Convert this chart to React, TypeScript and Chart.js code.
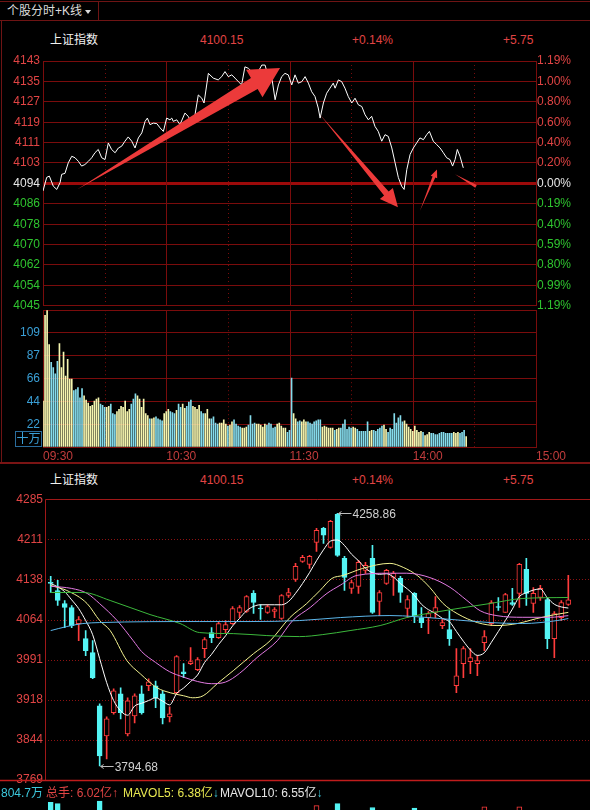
import React, { useEffect, useRef } from 'react';
import { Chart, registerables } from 'chart.js';

Chart.register(...registerables);

const FONT = '"Liberation Sans", "Noto Sans CJK SC", Arial, sans-serif';
Chart.defaults.font.family = FONT;

// ---------------- intraday (分时) ----------------
const PRICE_TICKS = [4045.68, 4053.8, 4061.92, 4070.04, 4078.16, 4086.28, 4094.4, 4102.52, 4110.64, 4118.76, 4126.88, 4135.0, 4143.12];
const PRICE_TICK_LABELS = ['4045', '4054', '4062', '4070', '4078', '4086', '4094', '4103', '4111', '4119', '4127', '4135', '4143'];
const PCT_TICK_LABELS = ['1.19%', '0.99%', '0.80%', '0.59%', '0.40%', '0.19%', '0.00%', '0.20%', '0.40%', '0.60%', '0.80%', '1.00%', '1.19%'];
const TIME_TICKS = [0, 60, 120, 180, 240];
const TIME_LABELS = ['09:30', '10:30', '11:30', '14:00', '15:00'];
const HOUR_LINES = [60, 120, 180];
const HALF_HOUR_LINES = [30, 90, 150, 210];

const MIN_T = [0, 1.8, 3.1, 5.0, 6.7, 8.3, 9.1, 10.7, 12.3, 14.0, 15.6, 17.2, 18.8, 20.4, 22.1, 23.7, 25.3, 26.9, 28.6, 30.2, 31.8, 33.4, 35.1, 36.7, 38.3, 39.9, 41.5, 43.2, 44.8, 46.4, 48.1, 49.7, 50.8, 52.1, 53.7, 55.4, 57.0, 58.6, 60.2, 61.8, 62.7, 63.4, 65.1, 66.7, 69.1, 70.7, 72.4, 74.0, 75.6, 77.3, 78.4, 80.5, 82.9, 85.3, 87.0, 88.6, 90.2, 91.9, 93.5, 95.1, 96.7, 98.3, 100.0, 101.6, 103.2, 104.8, 106.5, 108.1, 109.2, 111.3, 113.0, 114.6, 116.2, 117.8, 119.4, 121.1, 122.7, 124.3, 126.0, 127.6, 129.2, 130.8, 132.4, 134.0, 134.9, 136.5, 138.1, 139.7, 141.3, 142.2, 143.8, 145.4, 147.0, 148.6, 150.3, 151.9, 153.5, 155.2, 156.8, 158.4, 160.0, 161.6, 163.2, 164.9, 166.5, 168.1, 169.8, 171.4, 173.0, 174.6, 175.8, 177.1, 178.7, 180.3, 181.9, 183.5, 185.2, 186.8, 188.1, 190.0, 191.7, 193.3, 194.9, 196.5, 198.1, 199.4, 200.6, 201.7, 203.0, 204.6];
const MIN_P = [4091.4, 4096.8, 4097.3, 4093.3, 4092.0, 4094.7, 4098.0, 4098.4, 4102.6, 4105.2, 4104.6, 4103.2, 4101.3, 4101.9, 4103.2, 4104.6, 4106.6, 4107.9, 4104.6, 4103.9, 4110.5, 4107.9, 4106.6, 4108.5, 4109.2, 4111.2, 4112.9, 4111.2, 4108.5, 4112.5, 4114.5, 4119.1, 4120.4, 4117.8, 4118.4, 4118.2, 4116.5, 4115.1, 4120.4, 4119.7, 4120.4, 4119.1, 4119.7, 4117.8, 4122.4, 4121.1, 4118.4, 4121.7, 4129.6, 4128.3, 4126.4, 4138.2, 4136.3, 4135.6, 4136.9, 4138.9, 4136.9, 4137.6, 4136.3, 4134.9, 4133.6, 4140.8, 4140.2, 4138.9, 4137.6, 4138.9, 4141.5, 4141.5, 4138.2, 4136.9, 4127.7, 4133.6, 4136.9, 4138.2, 4137.6, 4133.6, 4137.6, 4134.3, 4134.9, 4136.9, 4134.3, 4130.9, 4129.0, 4124.4, 4120.4, 4126.4, 4130.3, 4132.3, 4134.3, 4132.3, 4135.6, 4134.9, 4132.3, 4129.0, 4126.4, 4128.3, 4125.7, 4125.0, 4121.7, 4119.7, 4121.1, 4117.1, 4115.1, 4111.2, 4113.8, 4113.1, 4108.5, 4102.6, 4096.7, 4093.3, 4092.0, 4099.9, 4105.9, 4108.5, 4110.5, 4112.5, 4111.8, 4113.8, 4115.1, 4111.2, 4109.8, 4108.5, 4106.6, 4104.6, 4103.9, 4101.3, 4103.9, 4107.9, 4105.2, 4100.6];

// volume per minute, unit 十万
const VOL = [
  44, 126, 131, 98, 81, 76, 70, 82, 99, 76,
  91, 68, 84, 65, 65, 54, 55, 57, 47, 56,
  49, 45, 42, 39, 40, 44, 46, 47, 41, 40,
  38, 38, 39, 41, 32, 31, 34, 36, 39, 38,
  44, 34, 36, 41, 46, 51, 49, 46, 38, 46,
  32, 30, 27, 27, 28, 29, 27, 26, 25, 32,
  34, 36, 34, 33, 32, 35, 41, 38, 41, 37,
  39, 43, 45, 39, 38, 36, 40, 34, 32, 32,
  36, 27, 27, 29, 23, 22, 23, 23, 26, 22,
  20, 21, 24, 26, 22, 20, 19, 18, 18, 19,
  21, 30, 22, 23, 22, 22, 21, 19, 22, 21,
  23, 22, 18, 19, 22, 23, 20, 18, 18, 14,
  16, 66, 32, 27, 24, 25, 24, 26, 24, 24,
  23, 22, 24, 25, 26, 26, 19, 20, 19, 18,
  18, 18, 16, 17, 18, 18, 22, 26, 17, 19,
  18, 19, 18, 17, 15, 15, 15, 15, 24, 15,
  16, 16, 15, 17, 18, 20, 21, 17, 14, 18,
  17, 32, 23, 28, 30, 24, 25, 22, 19, 17,
  15, 20, 16, 14, 15, 14, 11, 12, 14, 13,
  13, 12, 12, 13, 14, 14, 13, 13, 13, 13,
  14, 13, 14, 13, 14, 16, 10
];
const VOL_TICKS = [0, 21.83, 43.67, 65.5, 87.33, 109.17, 131];
const VOL_TICK_LABELS = ['', '22', '44', '66', '87', '109', ''];

// ---------------- daily K-line ----------------
const OPEN = [4132.0, 4117.3, 4093.3, 4086.0, 4056.5, 4028.8, 4003.0, 3905.4, 3850.1, 3892.5, 3927.5, 3853.8, 3886.9, 3927.5, 3942.2, 3942.2, 3927.5, 3885.1, 3929.3, 3968.0, 3982.8, 3971.7, 4010.4, 4039.9, 4030.7, 4045.4, 4056.5, 4076.8, 4078.6, 4111.8, 4085.0, 4076.8, 4078.6, 4065.7, 4108.1, 4137.6, 4170.8, 4165.2, 4205.8, 4231.6, 4196.5, 4257.4, 4176.3, 4121.0, 4124.7, 4154.2, 4176.3, 4097.0, 4130.2, 4141.3, 4139.4, 4084.1, 4111.8, 4067.5, 4067.5, 4076.8, 4052.8, 4045.4, 3942.2, 3982.8, 3986.5, 3982.8, 4021.5, 4056.5, 4087.8, 4076.8, 4095.2, 4111.8, 4156.0, 4093.3, 4104.4, 4100.7, 4028.8, 4067.5, 4091.5];
const HIGH = [4143.1, 4135.7, 4098.9, 4089.7, 4069.4, 4043.6, 4025.2, 3909.0, 3885.1, 3936.7, 3938.5, 3920.1, 3927.5, 3942.2, 3955.1, 3951.0, 3933.0, 3903.5, 3997.5, 3982.8, 4012.3, 3993.8, 4030.7, 4049.1, 4060.0, 4062.0, 4087.8, 4089.7, 4108.1, 4117.3, 4091.5, 4091.5, 4086.0, 4109.9, 4121.0, 4167.1, 4181.8, 4181.8, 4231.6, 4233.4, 4246.3, 4258.86, 4179.9, 4135.7, 4172.6, 4168.9, 4200.2, 4117.3, 4156.0, 4152.3, 4143.1, 4108.1, 4113.6, 4086.0, 4078.6, 4106.2, 4065.7, 4080.4, 4010.4, 4014.2, 4010.4, 3997.5, 4043.6, 4098.9, 4104.4, 4111.8, 4121.0, 4167.1, 4176.3, 4122.8, 4126.5, 4104.4, 4078.6, 4098.9, 4144.9];
const LOW = [4113.6, 4089.7, 4049.1, 4049.1, 4025.2, 3997.5, 3955.1, 3794.68, 3807.7, 3890.0, 3881.4, 3850.1, 3874.0, 3890.0, 3933.0, 3901.7, 3872.2, 3875.9, 3927.0, 3956.9, 3981.0, 3970.0, 3993.8, 4021.5, 4029.0, 4039.9, 4055.0, 4067.5, 4077.0, 4074.9, 4063.9, 4074.9, 4067.5, 4064.0, 4104.4, 4134.0, 4168.9, 4157.8, 4189.2, 4203.9, 4195.0, 4179.9, 4117.3, 4111.8, 4111.8, 4148.6, 4074.9, 4071.2, 4128.4, 4108.1, 4095.2, 4067.5, 4058.3, 4049.1, 4038.0, 4067.5, 4047.2, 4016.1, 3929.3, 3956.9, 3964.3, 3960.6, 4006.7, 4052.8, 4080.4, 4076.8, 4089.7, 4086.0, 4089.7, 4076.8, 4098.9, 4010.4, 3993.8, 4062.0, 4089.7];
const CLOSE = [4130.2, 4098.9, 4086.0, 4052.8, 4063.9, 4006.7, 3956.9, 3813.2, 3881.4, 3933.0, 3892.5, 3914.6, 3923.8, 3892.5, 3949.6, 3920.1, 3883.3, 3890.6, 3995.7, 3964.3, 3986.5, 3990.1, 4027.0, 4030.7, 4056.5, 4054.6, 4084.1, 4086.0, 4106.2, 4095.2, 4083.2, 4087.8, 4082.3, 4108.1, 4113.6, 4161.5, 4178.1, 4179.9, 4227.9, 4218.7, 4244.5, 4181.8, 4141.3, 4132.0, 4168.9, 4163.4, 4076.8, 4113.6, 4154.2, 4148.6, 4113.6, 4100.7, 4071.2, 4058.3, 4074.9, 4086.0, 4058.3, 4028.8, 3960.6, 4010.4, 3993.8, 3988.3, 4032.5, 4095.2, 4086.0, 4109.9, 4091.5, 4165.2, 4111.8, 4111.8, 4121.0, 4028.8, 4074.9, 4095.2, 4100.15];
// daily volume, 亿 (only the tallest bars reach into the visible strip)
const DAY_VOL = [11.2, 11.0, 8.0, 8.4, 7.2, 8.2, 8.8, 11.4, 9.6, 7.6, 7.2, 7.8, 6.8, 7.0, 6.2, 6.4, 6.9, 5.8, 8.9, 6.3, 6.5, 5.4, 7.3, 6.8, 6.9, 6.1, 7.8, 7.1, 8.1, 7.9, 6.3, 5.8, 5.5, 7.5, 6.7, 9.2, 8.4, 8.6, 10.7, 9.4, 9.9, 11.0, 9.7, 7.9, 8.8, 7.7, 10.4, 8.3, 7.9, 7.5, 7.3, 6.7, 10.3, 7.3, 6.5, 6.3, 5.9, 7.1, 8.7, 7.5, 6.3, 5.9, 10.5, 9.0, 7.2, 6.0, 5.6, 10.5, 6.0, 5.5, 6.5, 7.6, 6.8, 5.0, 6.02];

const K_TICKS = [3769, 3842.7, 3916.4, 3990.1, 4063.9, 4137.6, 4211.3, 4285];
const K_TICK_LABELS = ['3769', '3844', '3918', '3991', '4064', '4138', '4211', '4285'];

// moving averages
const MA5 = [4130, 4124, 4115, 4100, 4084, 4062, 4036, 3992, 3948, 3915, 3896, 3888, 3905, 3910, 3915, 3920, 3914, 3907, 3928, 3938, 3950, 3962, 3985, 4000, 4018, 4034, 4052, 4066, 4080, 4088, 4091, 4091, 4091, 4091, 4097, 4112, 4130, 4150, 4172, 4192, 4208, 4210, 4200, 4184, 4172, 4158, 4150, 4147, 4148, 4142, 4130, 4120, 4108, 4092, 4082, 4075, 4066, 4060, 4042, 4024, 4008, 3998, 4003, 4022, 4042, 4062, 4083, 4106, 4113, 4118, 4120, 4104, 4092, 4087, 4085];
const MA10_X = [0, 2.3, 5.2, 7, 8.5, 10.9, 12.8, 15.2, 17.1, 19, 20.3, 21.8, 23.8, 26.1, 29, 31.4, 34.2, 36.6, 38.5, 40.2, 41.8, 44.6, 48.5, 50.4, 52.4, 54.2, 56.1, 58.1, 61, 63.8, 66.7, 69.5, 71.4, 74];
const MA10_Y = [4126.5, 4117.3, 4093.3, 4062, 4043.6, 3988.3, 3964.3, 3938.5, 3929.3, 3923.8, 3920.1, 3923.8, 3945.9, 3969.9, 4001.2, 4025.2, 4067.5, 4093.3, 4117.3, 4139.4, 4144.9, 4157.8, 4167.1, 4159.7, 4144.9, 4122.8, 4093.3, 4074.9, 4058.3, 4052.8, 4056.5, 4065.7, 4071.2, 4077];
const MA20_X = [0, 3, 5.2, 7, 9.5, 11.8, 13, 15, 17, 19, 21, 23, 25, 27, 29.5, 32.4, 34.6, 37.1, 39.5, 41.4, 43.8, 48.5, 50.9, 54.2, 57.1, 59.5, 61.4, 63.8, 67.5, 71.4, 74];
const MA20_Y = [4125, 4121, 4112, 4093, 4062, 4025, 4005, 3985, 3968, 3958, 3950, 3946, 3949, 3965, 3994, 4025, 4062, 4086, 4112, 4127, 4145, 4149, 4149, 4141, 4123, 4099, 4080, 4071, 4068, 4068, 4071];
const MA60_X = [0, 4.6, 8.5, 14.2, 18.5, 21.3, 26.1, 30.9, 35.6, 38.9, 42.8, 47.1, 50.9, 54.7, 62.8, 67.5, 74];
const MA60_Y = [4113.6, 4113.6, 4098.9, 4073, 4056.5, 4039.9, 4038, 4034.4, 4032.5, 4036.2, 4043.6, 4052.8, 4067.5, 4076.8, 4093.3, 4102.6, 4104.4];
const MA120_X = [0, 2.3, 4.6, 7, 21.3, 28.5, 35.6, 41.4, 48.5, 55.7, 62.8, 67.5, 72.4, 74];
const MA120_Y = [4043.6, 4051, 4056.5, 4058.3, 4060.2, 4060.2, 4062, 4067.5, 4071.2, 4065.7, 4058.3, 4056.5, 4062, 4065.7];

// ---------------- styles ----------------
const BG = '#000000';
const GRID = '#7a0c0c';
const GRID_MID = '#9c0a0a';
const TXT_RED = '#e04444';
const TXT_GREEN = '#2fc42f';
const TXT_WHITE = '#e6e6e6';
const TXT_VOL = '#3a9fd6';
const TXT_TIME = '#c23c3c';
const K_RED = '#ff3c3c';
const K_CYAN = '#54f4f4';
const VOL_UP = '#f6f6b0';
const VOL_DN = '#86dcec';
const ARROW = '#ec3a3a';
const K_X_MIN = -0.815;
const K_X_MAX = 77.1;

function priceAt(m: number) {
  if (m <= MIN_T[0]) return MIN_P[0];
  for (let i = 1; i < MIN_T.length; i++) {
    if (m <= MIN_T[i]) {
      const f = (m - MIN_T[i - 1]) / (MIN_T[i] - MIN_T[i - 1]);
      return MIN_P[i - 1] + f * (MIN_P[i] - MIN_P[i - 1]);
    }
  }
  return MIN_P[MIN_P.length - 1];
}

const vLinesPlugin = {
  id: 'vlines',
  beforeDatasetsDraw(chart: any) {
    const { ctx, chartArea, scales } = chart;
    const x = scales.x;
    ctx.save();
    ctx.strokeStyle = GRID;
    ctx.lineWidth = 1;
    for (const t of HOUR_LINES) {
      const px = Math.round(x.getPixelForValue(t)) + 0.5;
      ctx.beginPath();
      ctx.moveTo(px, chartArea.top);
      ctx.lineTo(px, chartArea.bottom);
      ctx.stroke();
    }
    ctx.setLineDash([1, 3]);
    for (const t of HALF_HOUR_LINES) {
      const px = Math.round(x.getPixelForValue(t)) + 0.5;
      ctx.beginPath();
      ctx.moveTo(px, chartArea.top);
      ctx.lineTo(px, chartArea.bottom);
      ctx.stroke();
    }
    ctx.restore();
  },
};

// annotation arrows drawn by the user, anchored in data coordinates
const ARROWS = [
  { from: [16.6, 4092.0], to: [115.4, 4140.3], shaft: 13, headL: 30, headW: 32 },
  { from: [134.9, 4121.7], to: [172.8, 4084.9], shaft: 6, headL: 18, headW: 17 },
  { from: [183.5, 4083.5], to: [191.8, 4099.9], shaft: 3, headL: 8, headW: 7 },
  { from: [200.6, 4098.0], to: [210.8, 4093.2], shaft: 3, headL: 0, headW: 0 },
];

const arrowPlugin = {
  id: 'arrows',
  afterDatasetsDraw(chart: any) {
    const { ctx, scales } = chart;
    const xs = scales.x, ys = scales.y;
    ctx.save();
    ctx.fillStyle = ARROW;
    for (const a of ARROWS) {
      const x0 = xs.getPixelForValue(a.from[0]), y0 = ys.getPixelForValue(a.from[1]);
      const x1 = xs.getPixelForValue(a.to[0]), y1 = ys.getPixelForValue(a.to[1]);
      const dx = x1 - x0, dy = y1 - y0;
      const len = Math.hypot(dx, dy);
      const ux = dx / len, uy = dy / len;
      const nx = -uy, ny = ux;
      const bx = x1 - ux * a.headL, by = y1 - uy * a.headL;
      ctx.beginPath();
      ctx.moveTo(x0, y0);
      ctx.lineTo(bx + (nx * a.shaft) / 2, by + (ny * a.shaft) / 2);
      if (a.headL > 0) {
        ctx.lineTo(bx + (nx * a.headW) / 2, by + (ny * a.headW) / 2);
        ctx.lineTo(x1, y1);
        ctx.lineTo(bx - (nx * a.headW) / 2, by - (ny * a.headW) / 2);
      }
      ctx.lineTo(bx - (nx * a.shaft) / 2, by - (ny * a.shaft) / 2);
      ctx.closePath();
      ctx.fill();
    }
    ctx.restore();
  },
};

const kFramePlugin = {
  id: 'kframe',
  beforeDatasetsDraw(chart: any) {
    const { ctx, chartArea, scales, width } = chart;
    const y = scales.y;
    ctx.save();
    ctx.strokeStyle = '#8c1212';
    ctx.lineWidth = 1;
    ctx.setLineDash([1, 2]);
    for (let i = 1; i < K_TICKS.length - 1; i++) {
      const py = Math.round(y.getPixelForValue(K_TICKS[i])) + 0.5;
      ctx.beginPath();
      ctx.moveTo(chartArea.left, py);
      ctx.lineTo(chartArea.right, py);
      ctx.stroke();
    }
    ctx.setLineDash([]);
    ctx.strokeStyle = '#a01818';
    const top = Math.round(chartArea.top) + 0.5;
    const bot = Math.round(chartArea.bottom) + 0.5;
    const left = Math.round(chartArea.left) + 0.5;
    ctx.beginPath();
    ctx.moveTo(left, top);
    ctx.lineTo(width, top);
    ctx.moveTo(left, top);
    ctx.lineTo(left, bot);
    ctx.stroke();
    ctx.strokeStyle = '#c01c1c';
    ctx.lineWidth = 1.5;
    ctx.beginPath();
    ctx.moveTo(0, bot);
    ctx.lineTo(width, bot);
    ctx.stroke();
    ctx.restore();
  },
};

const extremaPlugin = {
  id: 'extrema',
  afterDatasetsDraw(chart: any) {
    const { ctx, scales } = chart;
    const xs = scales.x, ys = scales.y;
    const hiVal = Math.max(...HIGH);
    const loVal = Math.min(...LOW);
    const marks = [
      { i: HIGH.indexOf(hiVal), v: hiVal },
      { i: LOW.indexOf(loVal), v: loVal },
    ];
    ctx.save();
    ctx.font = '12px ' + FONT;
    ctx.textBaseline = 'middle';
    ctx.textAlign = 'left';
    for (const m of marks) {
      const px = xs.getPixelForValue(m.i);
      const py = Math.round(ys.getPixelForValue(m.v)) + 0.5;
      ctx.strokeStyle = '#bdbdbd';
      ctx.lineWidth = 1;
      ctx.beginPath();
      ctx.moveTo(px + 1, py);
      ctx.lineTo(px + 14, py);
      ctx.moveTo(px + 1, py);
      ctx.lineTo(px + 4, py - 2);
      ctx.moveTo(px + 1, py);
      ctx.lineTo(px + 4, py + 2);
      ctx.stroke();
      ctx.fillStyle = '#cfcfcf';
      ctx.fillText(m.v.toFixed(2), px + 15, py + 1);
    }
    ctx.restore();
  },
};

function ChartCanvas({ left, top, width, height, make }: any) {
  const ref = useRef<HTMLCanvasElement>(null);
  useEffect(() => {
    const chart = new Chart(ref.current as HTMLCanvasElement, make());
    return () => chart.destroy();
  }, []);
  return (
    <canvas
      ref={ref}
      width={width}
      height={height}
      style={{ position: 'absolute', left, top, width, height }}
    />
  );
}

const baseOpts = {
  responsive: false,
  maintainAspectRatio: false,
  animation: false,
  events: [],
  devicePixelRatio: 1,
};

function makePriceChart(): any {
  return {
    type: 'line',
    data: {
      datasets: [
        {
          data: MIN_T.map((t, i) => ({ x: t, y: MIN_P[i] })),
          borderColor: '#ffffff',
          borderWidth: 1,
          pointRadius: 0,
          tension: 0,
        },
      ],
    },
    options: {
      ...baseOpts,
      layout: { padding: { top: 11, bottom: 9, left: 0, right: 0 } },
      plugins: { legend: { display: false }, tooltip: { enabled: false } },
      scales: {
        x: { type: 'linear', min: 0, max: 240, display: false },
        y: {
          position: 'left',
          min: PRICE_TICKS[0],
          max: PRICE_TICKS[PRICE_TICKS.length - 1],
          afterBuildTicks: (s: any) => {
            s.ticks = PRICE_TICKS.map((v) => ({ value: v }));
          },
          afterFit: (s: any) => {
            s.width = 43;
          },
          ticks: {
            autoSkip: false,
            padding: 3,
            font: { size: 12, family: FONT },
            color: (c: any) => (c.index < 6 ? TXT_GREEN : c.index === 6 ? TXT_WHITE : TXT_RED),
            callback: (_v: any, i: number) => PRICE_TICK_LABELS[i],
          },
          grid: {
            drawTicks: false,
            color: (c: any) => (c.index === 6 ? GRID_MID : GRID),
            lineWidth: (c: any) => (c.index === 6 ? 3 : 1),
          },
          border: { display: true, color: GRID, width: 1 },
        },
        y2: {
          position: 'right',
          min: PRICE_TICKS[0],
          max: PRICE_TICKS[PRICE_TICKS.length - 1],
          afterBuildTicks: (s: any) => {
            s.ticks = PRICE_TICKS.map((v) => ({ value: v }));
          },
          afterFit: (s: any) => {
            s.width = 54;
          },
          ticks: {
            autoSkip: false,
            padding: 1,
            font: { size: 12, family: FONT },
            color: (c: any) => (c.index < 6 ? TXT_GREEN : c.index === 6 ? TXT_WHITE : TXT_RED),
            callback: (_v: any, i: number) => PCT_TICK_LABELS[i],
          },
          grid: { drawTicks: false, drawOnChartArea: false },
          border: { display: true, color: GRID, width: 1 },
        },
      },
    },
    plugins: [vLinesPlugin, arrowPlugin],
  };
}

function makeVolumeChart(): any {
  const colors = VOL.map((_v, m) => (m === 0 || priceAt(m) >= priceAt(m - 1) ? VOL_UP : VOL_DN));
  return {
    type: 'bar',
    data: {
      datasets: [
        {
          data: VOL.map((v, m) => ({ x: m, y: v })),
          backgroundColor: colors,
          borderWidth: 0,
          barThickness: 1,
          grouped: false,
        },
      ],
    },
    options: {
      ...baseOpts,
      layout: { padding: { top: 7, bottom: 0, left: 0, right: 0 } },
      plugins: { legend: { display: false }, tooltip: { enabled: false } },
      scales: {
        x: {
          type: 'linear',
          min: 0,
          max: 240,
          offset: false,
          afterBuildTicks: (s: any) => {
            s.ticks = TIME_TICKS.map((v) => ({ value: v }));
          },
          afterFit: (s: any) => {
            s.height = 23;
          },
          ticks: {
            autoSkip: false,
            maxRotation: 0,
            minRotation: 0,
            align: 'start',
            padding: 2,
            color: TXT_TIME,
            font: { size: 12, family: FONT },
            callback: (_v: any, i: number) => TIME_LABELS[i],
          },
          grid: { display: false, drawTicks: false },
          border: { display: true, color: GRID, width: 1 },
        },
        y: {
          position: 'left',
          min: 0,
          max: VOL_TICKS[VOL_TICKS.length - 1],
          afterBuildTicks: (s: any) => {
            s.ticks = VOL_TICKS.map((v) => ({ value: v }));
          },
          afterFit: (s: any) => {
            s.width = 43;
          },
          ticks: {
            autoSkip: false,
            padding: 3,
            color: TXT_VOL,
            font: { size: 12, family: FONT },
            callback: (_v: any, i: number) => VOL_TICK_LABELS[i],
          },
          grid: { drawTicks: false, color: GRID, lineWidth: 1 },
          border: { display: true, color: GRID, width: 1 },
        },
        y2: {
          position: 'right',
          min: 0,
          max: VOL_TICKS[VOL_TICKS.length - 1],
          afterFit: (s: any) => {
            s.width = 54;
          },
          ticks: { display: false },
          grid: { drawTicks: false, drawOnChartArea: false },
          border: { display: true, color: GRID, width: 1 },
        },
      },
    },
    plugins: [vLinesPlugin],
  };
}

function makeKChart(): any {
  const up = CLOSE.map((c, i) => c >= OPEN[i]);
  const maLine = (xs: number[], ys: number[], color: string) => ({
    type: 'line',
    data: xs.map((x, i) => ({ x, y: ys[i] })),
    borderColor: color,
    borderWidth: 1,
    pointRadius: 0,
    cubicInterpolationMode: 'monotone',
    order: 1,
  });
  return {
    type: 'bar',
    data: {
      datasets: [
        {
          type: 'bar',
          data: HIGH.map((h, i) => ({ x: i, y: [LOW[i], h] })),
          backgroundColor: up.map((u) => (u ? K_RED : K_CYAN)),
          borderWidth: 0,
          barThickness: 1,
          grouped: false,
          order: 3,
        },
        {
          type: 'bar',
          data: OPEN.map((o, i) => ({ x: i, y: [o, CLOSE[i]] })),
          backgroundColor: up.map((u) => (u ? BG : K_CYAN)),
          borderColor: up.map((u) => (u ? K_RED : K_CYAN)),
          borderWidth: 1,
          borderSkipped: false,
          barThickness: 5,
          minBarLength: 1,
          grouped: false,
          order: 2,
        },
        maLine(MA120_X, MA120_Y, '#5cb6ea'),
        maLine(MA60_X, MA60_Y, '#3cb83c'),
        maLine(MA20_X, MA20_Y, '#e27ae2'),
        maLine(MA10_X, MA10_Y, '#f2f290'),
        maLine(MA5.map((_v, i) => i), MA5, '#ffffff'),
      ],
    },
    options: {
      ...baseOpts,
      layout: { padding: { top: 8, bottom: 10, left: 0, right: 0 } },
      plugins: { legend: { display: false }, tooltip: { enabled: false } },
      scales: {
        x: { type: 'linear', min: K_X_MIN, max: K_X_MAX, offset: false, display: false },
        y: {
          position: 'left',
          min: K_TICKS[0],
          max: K_TICKS[K_TICKS.length - 1],
          afterBuildTicks: (s: any) => {
            s.ticks = K_TICKS.map((v) => ({ value: v }));
          },
          afterFit: (s: any) => {
            s.width = 45;
          },
          ticks: {
            autoSkip: false,
            padding: 2,
            color: TXT_RED,
            font: { size: 12, family: FONT },
            callback: (_v: any, i: number) => K_TICK_LABELS[i],
          },
          grid: { display: false, drawTicks: false },
          border: { display: false },
        },
      },
    },
    plugins: [kFramePlugin, extremaPlugin],
  };
}

// top strip of the daily-volume sub-panel (only tallest bars poke into view)
function makeDayVolChart(): any {
  const up = CLOSE.map((c, i) => c >= OPEN[i]);
  return {
    type: 'bar',
    data: {
      datasets: [
        {
          data: DAY_VOL.map((v, i) => ({ x: i, y: v })),
          backgroundColor: up.map((u) => (u ? BG : K_CYAN)),
          borderColor: up.map((u) => (u ? K_RED : K_CYAN)),
          borderWidth: 1,
          borderSkipped: false,
          barThickness: 5,
          grouped: false,
        },
      ],
    },
    options: {
      ...baseOpts,
      layout: { padding: { top: 1, bottom: 0, left: 45, right: 0 } },
      plugins: { legend: { display: false }, tooltip: { enabled: false } },
      scales: {
        x: { type: 'linear', min: K_X_MIN, max: K_X_MAX, offset: false, display: false },
        y: { min: 10, max: 11.9, display: false },
      },
    },
  };
}

const abs = (s: any) => ({ position: 'absolute', ...s });

function HeaderRow({ top }: { top: number }) {
  const base = { fontSize: 12, lineHeight: '14px', top, whiteSpace: 'nowrap' };
  return (
    <>
      <div style={abs({ ...base, left: 50, color: '#f2f2f2' })}>上证指数</div>
      <div style={abs({ ...base, left: 200, color: TXT_RED })}>4100.15</div>
      <div style={abs({ ...base, left: 352, color: TXT_RED })}>+0.14%</div>
      <div style={abs({ ...base, left: 503, color: TXT_RED })}>+5.75</div>
    </>
  );
}

export default function App() {
  return (
    <div
      style={{
        position: 'absolute',
        left: 0,
        top: 0,
        width: 590,
        height: 810,
        background: BG,
        overflow: 'hidden',
        fontFamily: FONT,
      }}
    >
      {/* top tab bar */}
      <div style={abs({ left: 0, top: 1, width: 590, height: 1, background: '#6e1414' })} />
      <div style={abs({ left: 0, top: 20, width: 590, height: 1, background: '#6e1414' })} />
      <div style={abs({ left: 98, top: 2, width: 1, height: 18, background: '#6e1414' })} />
      <div style={abs({ left: 7, top: 4, fontSize: 12, lineHeight: '14px', color: '#dcdcdc', whiteSpace: 'nowrap' })}>
        个股分时+K线
      </div>
      <div
        style={abs({
          left: 85,
          top: 10,
          width: 0,
          height: 0,
          borderLeft: '3px solid transparent',
          borderRight: '3px solid transparent',
          borderTop: '4px solid #dcdcdc',
        })}
      />
      {/* panel frame */}
      <div style={abs({ left: 1, top: 21, width: 1, height: 442, background: '#6e1414' })} />
      <div style={abs({ left: 0, top: 462, width: 590, height: 2, background: '#7a1414' })} />

      <HeaderRow top={33} />
      <HeaderRow top={473} />

      <ChartCanvas left={0} top={50} width={590} height={266} make={makePriceChart} />
      <ChartCanvas left={0} top={300} width={590} height={170} make={makeVolumeChart} />
      <div
        style={abs({
          left: 15,
          top: 431,
          width: 25,
          height: 14,
          border: '1px solid #2a6c9c',
          color: TXT_VOL,
          fontSize: 12,
          lineHeight: '14px',
          textAlign: 'center',
        })}
      >
        十万
      </div>

      <ChartCanvas left={0} top={490} width={590} height={300} make={makeKChart} />
      <ChartCanvas left={0} top={797} width={590} height={13} make={makeDayVolChart} />

      {/* bottom volume status row */}
      <div style={abs({ left: 1, top: 786, fontSize: 12, lineHeight: '14px', whiteSpace: 'nowrap', color: '#3cc8dc' })}>
        804.7万
      </div>
      <div style={abs({ left: 46, top: 786, fontSize: 12, lineHeight: '14px', whiteSpace: 'nowrap', color: TXT_RED })}>
        总手: 6.02亿↑
      </div>
      <div style={abs({ left: 123, top: 786, fontSize: 12, lineHeight: '14px', whiteSpace: 'nowrap', color: '#e8e850' })}>
        MAVOL5: 6.38亿<span style={{ color: '#3cc8dc' }}>↓</span>
      </div>
      <div style={abs({ left: 220, top: 786, fontSize: 12, lineHeight: '14px', whiteSpace: 'nowrap', color: '#e6e6e6' })}>
        MAVOL10: 6.55亿<span style={{ color: '#3cc8dc' }}>↓</span>
      </div>
    </div>
  );
}
